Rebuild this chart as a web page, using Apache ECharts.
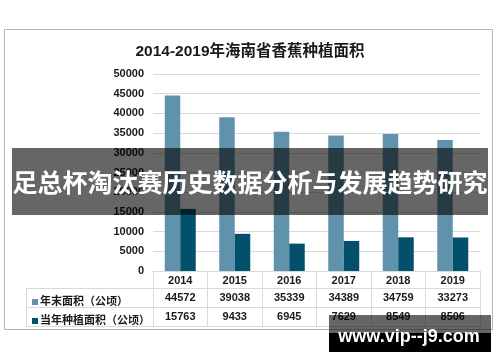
<!DOCTYPE html>
<html><head><meta charset="utf-8">
<script src="https://cdn.jsdelivr.net/npm/echarts@6/dist/echarts.min.js"></script>
<style>html,body{margin:0;padding:0;background:#fff}#c{width:500px;height:362px}</style>
</head><body><div id="c"></div>
<script>
const title = '2014-2019年海南省香蕉种植面积';
const categories = ['2014','2015','2016','2017','2018','2019'];
const seriesNames = ['年末面积（公顷）','当年种植面积（公顷）'];
const yearEndArea = [44572,39038,35339,34389,34759,33273];
const plantedArea = [15763,9433,6945,7629,8549,8506];
const yTicks = [0,5000,10000,15000,20000,25000,30000,35000,40000,45000,50000];
const bannerText = '足总杯淘汰赛历史数据分析与发展趋势研究';
const watermark = 'www.vip--j9.com';

const FF = "'Liberation Sans', Arial, 'Noto Sans CJK SC', sans-serif";
const C1 = '#6093ab', C2 = '#02506b', GL = '#d9d9d9';
const chart = echarts.init(document.getElementById('c'));
chart.setOption({
  animation:false,
  backgroundColor:'#fff',
  title:{text:title,left:'center',top:39,textStyle:{fontFamily:FF,fontSize:15.5,fontWeight:'bold',color:'#1a1a1a'}},
  legend:{orient:'vertical',left:27,top:290,itemWidth:6,itemHeight:6,itemGap:5,icon:'rect',
    textStyle:{fontFamily:FF,fontSize:11,fontWeight:'bold',color:'#1a1a1a',lineHeight:14,padding:[0,0,0,-3]},
    data:seriesNames},
  grid:{left:153,right:20,top:74,bottom:91},
  xAxis:{type:'category',data:categories,
    axisLine:{lineStyle:{color:GL}},
    axisTick:{show:true,length:55,lineStyle:{color:GL}},
    axisLabel:{margin:1,interval:0,
      formatter:(v,i)=>`{y|${v}}\n{v|${yearEndArea[i]}}\n{v|${plantedArea[i]}}`,
      rich:{y:{fontFamily:FF,fontSize:11,fontWeight:'bold',color:'#1a1a1a',lineHeight:17},
            v:{fontFamily:FF,fontSize:11,fontWeight:'bold',color:'#1a1a1a',lineHeight:18.5}}}},
  yAxis:{type:'value',min:yTicks[0],max:yTicks[yTicks.length-1],interval:yTicks[1]-yTicks[0],
    axisLine:{show:false},axisTick:{show:false},
    axisLabel:{margin:9,fontFamily:FF,fontSize:11,fontWeight:'bold',color:'#1a1a1a',formatter:v=>String(v)},
    splitLine:{lineStyle:{color:GL}}},
  series:[
    {name:seriesNames[0],type:'bar',data:yearEndArea,barWidth:15.5,barGap:'0%',itemStyle:{color:C1}},
    {name:seriesNames[1],type:'bar',data:plantedArea,barWidth:15.5,barGap:'0%',itemStyle:{color:C2}}
  ],
  graphic:[
    {type:'rect',shape:{x:4.5,y:29.5,width:488,height:300},style:{fill:null,stroke:'#b5b5b5',lineWidth:1},z:-1},
    {type:'line',shape:{x1:26,y1:288.5,x2:480,y2:288.5},style:{stroke:GL,lineWidth:1}},
    {type:'line',shape:{x1:26,y1:307.5,x2:480,y2:307.5},style:{stroke:GL,lineWidth:1}},
    {type:'line',shape:{x1:26,y1:326.5,x2:480,y2:326.5},style:{stroke:GL,lineWidth:1}},
    {type:'line',shape:{x1:26.5,y1:288,x2:26.5,y2:327},style:{stroke:GL,lineWidth:1}},
    {type:'rect',shape:{x:12,y:148,width:476,height:67},style:{fill:'rgba(0,0,0,0.6)'},z:100},
    {type:'text',x:250,y:182,style:{text:bannerText,fill:'#fff',font:"bold 25px 'Noto Sans CJK SC', sans-serif",textAlign:'center',textVerticalAlign:'middle'},z:101},
    {type:'rect',shape:{x:329,y:315,width:162,height:18},style:{fill:'rgba(0,0,0,0.6)'},z:100},
    {type:'rect',shape:{x:329,y:333,width:162,height:19},style:{fill:'#000'},z:100},
    {type:'text',x:409,y:337,style:{text:watermark,fill:'#fff',font:"bold 18px 'Liberation Sans', Arial, sans-serif",textAlign:'center',textVerticalAlign:'middle'},z:101}
  ]
});
</script></body></html>
